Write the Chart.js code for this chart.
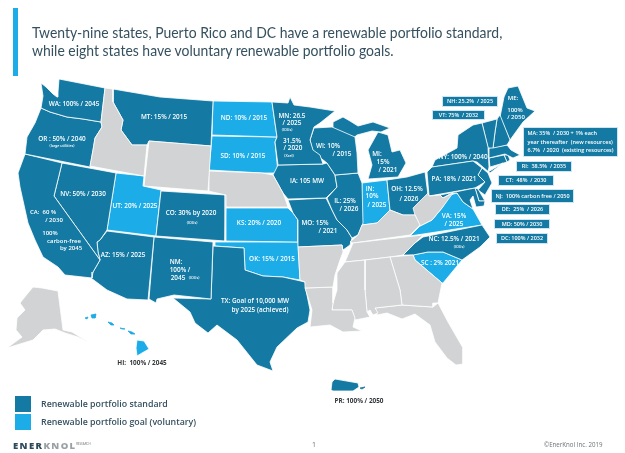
<!DOCTYPE html>
<html>
<head>
<meta charset="utf-8">
<title>Renewable portfolio standards by state</title>
<script src="https://cdn.jsdelivr.net/npm/chart.js@4"></script>
<style>
    html, body { margin: 0; padding: 0; background: #fff; }
    #page { position: relative; width: 625px; height: 453px; overflow: hidden; font-family: "Open Sans", sans-serif; }
    #map { position: absolute; left: 0; top: 0; }
    #accent { position: absolute; left: 13px; top: 8px; width: 5px; height: 68px; background: #1CACE8; }
    #title { position: absolute; left: 32px; top: 24px; font-family: Lato, sans-serif; font-size: 15px; line-height: 17.5px; color: #35505f; white-space: nowrap; transform: scaleX(0.93); transform-origin: left top; }
    .tag { position: absolute; transform: translate(-50%, -50%); white-space: pre; color: #fff; font-weight: 600; line-height: 1; }
    .box { position: absolute; background: #147AA3; color: #fff; font-size: 5.5px; font-weight: 600; line-height: 8.6px; white-space: pre; box-sizing: border-box; display: flex; align-items: center; justify-content: center; box-shadow: 0 0 0 1px #cfe6f1; }
    .swatch { position: absolute; left: 15px; width: 16px; height: 16px; }
    .key { position: absolute; left: 41px; font-size: 9.6px; color: #35505f; white-space: nowrap; font-weight: 600; transform: translateY(-50%) scaleX(0.92); transform-origin: left center; }
    .foot { position: absolute; white-space: nowrap; color: #6d7275; }
</style>
</head>
<body>
<div id="page">
    <canvas id="map" width="625" height="453"></canvas>
    <div id="accent"></div>
    <div id="title">Twenty-nine states, Puerto Rico and DC have a renewable portfolio standard,<br>while eight states have voluntary renewable portfolio goals.</div>
    <div class="swatch" style="top:396px;background:#147AA3"></div>
    <div class="swatch" style="top:414px;background:#1CACE8"></div>
    <div class="key" style="top:403px">Renewable portfolio standard</div>
    <div class="key" style="top:421px">Renewable portfolio goal (voluntary)</div>
    <div class="foot" style="left:13px;top:439px;font-size:9.5px;font-weight:800;letter-spacing:1.4px"><span style="color:#2d4a5c">ENER</span><span style="color:#9aa0a4">KNOL</span></div>
    <div class="foot" style="left:76px;top:442px;font-size:3px">RESEARCH</div>
    <div class="foot" style="left:312px;top:440px;font-size:7px">1</div>
    <div class="foot" style="left:544px;top:438px;font-size:8px;transform:scaleX(0.77);transform-origin:left top">©EnerKnol Inc. 2019</div>
</div>

<script>
// 1. State outlines, in map units [x, y]
const WA = [[41,83],[46,87],[53,94],[57,97],[58,92],[59,79],[105,88],[101,122],[83,119],[67,117],[50,112],[41,108],[43,96]];
const OR = [[41,108],[50,112],[67,117],[83,119],[101,122],[102,127],[95,138],[93,150],[90,167],[25,154],[27,137],[35,123]];
const CA = [[25,154],[62,163],[54,196],[100,260],[93,272],[92,278],[65,275],[58,267],[43,257],[35,240],[28,223],[20,187],[18,173]];
const NV = [[62,163],[116,173],[107,230],[100,240],[97,242],[98,252],[100,260],[54,196]];
const ID = [[105,88],[113,89],[113,102],[123,120],[121,130],[132,145],[147,145],[144,176],[90,166],[93,150],[95,138],[102,127],[101,122]];
const MT = [[113,89],[160,97],[213,101],[211,146],[149,141],[147,145],[132,145],[121,130],[123,120],[113,102]];
const WY = [[149,141],[211,146],[208,191],[144,186]];
const UT = [[116,173],[144,176],[143,186],[161,190],[156,236],[107,230]];
const AZ = [[107,231],[154,237],[148,300],[127,299],[107,290],[91,278],[93,272],[100,260],[98,252],[97,242],[100,240]];
const NM = [[154,237],[213,242],[211,299],[174,295],[157,299],[156,303],[149,299]];
const CO = [[161,191],[226,195],[225,241],[156,236]];
const ND = [[213,101],[272,102],[277,137],[212,135]];
const SD = [[212,136],[277,137],[275,142],[278,173],[262,173],[209,170]];
const NE = [[209,171],[262,173],[273,175],[283,193],[288,207],[226,207],[226,195],[208,191]];
const KS = [[226,208],[288,208],[293,213],[298,220],[298,242],[225,241]];
const OK = [[215,242],[298,242],[300,280],[283,277],[263,276],[245,270],[244,248],[215,246]];
const TX = [[213,246],[244,248],[245,270],[263,276],[283,277],[305,282],[306,290],[310,310],[308,322],[297,328],[277,347],[270,362],[273,371],[257,365],[245,350],[237,340],[217,325],[208,333],[195,323],[190,312],[173,298],[211,299]];
const MN = [[272,102],[288,103],[290,97],[294,105],[310,107],[335,111],[320,123],[314,127],[310,140],[313,150],[320,155],[323,164],[278,165],[275,142],[277,137]];
const WI = [[314,128],[332,127],[355,137],[357,153],[358,173],[335,175],[327,163],[313,152],[310,140]];
const MIU = [[333,122],[343,117],[350,121],[358,126],[373,122],[390,128],[381,132],[372,131],[357,135],[351,140],[333,130]];
const MIL = [[368,179],[372,165],[368,150],[378,132],[388,135],[392,152],[400,150],[406,163],[398,177]];
const IL = [[335,175],[358,173],[362,183],[363,223],[358,235],[352,238],[347,230],[337,220],[332,210],[327,198],[337,187]];
const IA = [[278,165],[323,164],[327,163],[335,175],[337,187],[326,198],[288,199],[283,193],[273,175]];
const MO = [[288,200],[326,198],[332,210],[337,220],[347,230],[352,238],[350,245],[343,250],[342,245],[298,247],[298,220],[293,213]];
const AR = [[298,247],[342,245],[343,252],[340,260],[335,275],[333,287],[305,288],[305,282],[300,280]];
const LA = [[305,288],[333,287],[333,303],[332,310],[352,310],[355,318],[353,327],[362,331],[343,332],[330,325],[310,327],[312,310]];
const MS = [[345,262],[365,260],[365,290],[367,312],[370,317],[355,320],[352,310],[332,310],[333,303],[337,290],[337,273]];
const AL = [[365,260],[390,257],[400,290],[402,305],[375,308],[378,313],[373,315],[370,310],[367,312],[365,290]];
const GA = [[390,257],[413,255],[415,260],[442,283],[440,293],[438,303],[433,303],[433,307],[402,305],[400,290]];
const FL = [[375,308],[402,305],[433,307],[438,303],[448,322],[463,348],[463,364],[456,365],[447,358],[435,342],[430,325],[415,314],[402,319],[387,313],[377,315]];
const SC = [[413,255],[428,252],[443,252],[462,260],[443,283],[442,283],[415,260]];
const NC = [[403,255],[415,243],[423,237],[482,225],[490,237],[480,247],[462,260],[443,252],[428,252],[413,255]];
const TN = [[345,262],[353,243],[423,235],[415,243],[403,255],[390,257],[365,260]];
const KY = [[350,242],[358,235],[362,225],[377,223],[390,210],[403,215],[415,215],[420,225],[410,235],[353,243]];
const VA = [[410,236],[420,226],[432,220],[442,208],[450,195],[457,193],[463,202],[473,209],[482,225]];
const WV = [[415,215],[413,208],[428,193],[429,196],[440,195],[443,198],[453,193],[442,208],[432,220],[420,226]];
const MD = [[440,195],[475,188],[479,201],[485,201],[484,206],[476,207],[473,196],[470,200],[473,209],[463,202],[457,193],[450,194],[443,198]];
const DE = [[475,188],[478,189],[485,201],[479,201]];
const PA = [[427,172],[432,167],[473,161],[482,168],[478,175],[485,182],[475,188],[429,196]];
const OH = [[387,180],[407,177],[425,172],[428,195],[415,215],[403,215],[390,210]];
const IN = [[362,183],[387,180],[390,210],[377,223],[362,225]];
const NY = [[432,167],[435,160],[457,148],[458,135],[473,125],[482,123],[488,147],[489,167],[488,172],[503,163],[490,173],[477,162],[473,161]];
const NJ = [[482,168],[488,173],[492,183],[485,195],[478,190],[485,182],[478,175]];
const VT = [[482,123],[497,119],[495,132],[493,148],[488,148]];
const NH = [[497,119],[500,115],[510,140],[507,145],[493,148],[495,132]];
const ME = [[500,117],[504,97],[508,88],[518,86],[527,108],[535,111],[523,122],[510,140]];
const MA = [[489,148],[507,145],[511,150],[520,155],[513,158],[505,154],[489,158]];
const CT = [[489,158],[504,155],[507,162],[490,167]];
const RI = [[504,155],[508,155],[510,160],[507,162]];
const AK = [[33,287],[42,288],[58,291],[63,330],[72,332],[90,343],[78,337],[65,333],[55,329],[43,330],[33,340],[7,348],[22,337],[16,330],[17,318],[25,310],[20,303],[28,293]];
const HI1 = [[137,340],[144,341],[149,349],[142,353],[137,356],[136,348]];
const HI2 = [[128,331],[132,332],[135,334],[131,334]];
const HI3 = [[120,328],[125,329],[122,329]];
const HI4 = [[108,322],[112,323],[114,325],[111,325]];
const HI5 = [[91,315],[96,314],[95,318],[92,318]];
const HI6 = [[85,318],[88,317],[87,319]];
const PR1 = [[332,382],[335,379],[358,383],[359,387],[353,391],[333,391],[331,390]];
const PR2 = [[360,388],[365,387],[362,389]];

// 2. Which outline belongs to which group
const noPolicyShapes = [ID, WY, NE, AR, LA, MS, AL, GA, FL, TN, KY, WV, AK];
const standardShapes = [WA, OR, CA, NV, MT, AZ, NM, CO, TX, MN, WI, MIU, MIL, IL, IA, MO, NC, MD, DE, PA, OH, NY, NJ, VT, NH, ME, MA, CT, RI, PR1];
const goalShapes = [UT, ND, SD, KS, OK, SC, VA, IN, HI1];
const standardIslands = [PR2];
const goalIslands = [HI2, HI3, HI4, HI5, HI6];

// 3. State labels: text, x, y, font size
const stateLabels = [
    ["WA: 100% / 2045", 74, 104, 6.4], ["MT: 15% / 2015", 164, 117, 6.4], ["ND: 10% / 2015", 244, 118, 6.4],
    ["SD: 10% / 2015", 243, 156, 6.4], ["OR : 50% / 2040", 62, 139, 6.4], ["(large utilities)", 62, 146, 3.6],
    ["NV: 50% / 2030", 83, 194, 6.4], ["UT: 20% / 2025", 135, 206, 6.4], ["CO: 30% by 2020", 191, 213, 6.4],
    ["(IOUs)", 192, 223, 3.6], ["KS: 20% / 2020", 259, 223, 6.4], ["OK: 15% / 2015", 272, 259, 6.4],
    ["CA:  60 %", 43, 212, 6], ["/ 2030", 54, 220, 6], ["100%", 50, 233, 6], ["carbon-free", 64, 241, 6], ["by 2045", 71, 248, 6],
    ["AZ: 15% / 2025", 123, 255, 6.4], ["NM:", 176, 262, 6.4], ["100% /", 180, 270, 6.4], ["2045", 178, 278, 6.4], ["(IOUs)", 194, 278, 3.6],
    ["TX: Goal of 10,000 MW", 255, 301, 6.4], ["by 2025 (achieved)", 260, 310, 6.4],
    ["MN: 26.5", 292, 116, 6.4], ["/ 2025", 292, 123, 6.4], ["(IOUs)", 287, 130, 3.6], ["31.5%", 292, 141, 6.4], ["/ 2020", 293, 148, 6.4], ["(Xcel)", 289, 156, 3.6],
    ["IA: 105 MW", 307, 181, 6.4], ["WI: 10%", 328, 146, 6.4], ["/ 2015", 342, 154, 6.4], ["MO: 15%", 315, 223, 6.4], ["/ 2021", 328, 231, 6.4],
    ["IL: 25%", 345, 201, 6.4], ["/ 2026", 349, 209, 6.4], ["IN:", 370, 189, 6.4], ["10%", 372, 196, 6.4], ["/ 2025", 377, 205, 6.4],
    ["MI:", 377, 154, 6.4], ["15%", 383, 162, 6.4], ["/ 2021", 388, 170, 6.4], ["OH: 12.5%", 407, 189, 6.4], ["/ 2026", 409, 199, 6.4],
    ["PA: 18% / 2021", 454, 179, 6.4], ["NY: 100% / 2040", 463, 157, 6.4], ["VA: 15%", 454, 216, 6.4], ["/ 2025", 454, 224, 6.4],
    ["NC: 12.5% / 2021", 454, 239, 6.4], ["(IOUs)", 459, 247, 3.6], ["SC : 2% 2021", 440, 263, 6.4],
    ["ME:", 513, 98, 6], ["100%", 515, 110, 6], ["/ 2050", 516, 117, 6]
];
const outsideLabels = [["HI:  100% / 2045", 142, 363], ["PR: 100% / 2050", 359, 401]];

// 4. Boxed labels for the small northeast states: text, left, top, right, bottom
const boxLabels = [
    ["NH: 25.2%  / 2025", 443, 97, 497, 106], ["VT: 75%  / 2032", 433, 111, 484, 119],
    ["MA: 35%  / 2030 + 1% each\nyear thereafter  (new resources)\n6.7%  / 2020  (existing resources)", 524, 128, 617, 156],
    ["RI:  38.5%  / 2035", 517, 162, 571, 171], ["CT:  48%  / 2030", 499, 176, 553, 185],
    ["NJ:  100% carbon free / 2050", 492, 190, 573, 202], ["DE:  25%  / 2026", 496, 205, 549, 214],
    ["MD: 50% / 2030", 495, 220, 549, 228], ["DC: 100% / 2032", 497, 234, 547, 243]
];

// 5. One closed, filled line per outline
function shapeDataset(shape, color, edge) {
    const points = shape.concat([shape[0]]).map(p => ({ x: p[0], y: p[1] }));
    return {
        data: points,
        showLine: true,
        fill: 'shape',
        backgroundColor: color,
        borderColor: edge,
        borderWidth: 0.8,
        pointRadius: 0,
        tension: 0,
        clip: false
    };
}

const chart = new Chart(document.getElementById('map'), {
    type: 'scatter',
    data: {
        datasets: [
            ...noPolicyShapes.map(s => shapeDataset(s, '#D1D3D4', '#ffffff')),
            ...standardShapes.map(s => shapeDataset(s, '#147AA3', '#ffffff')),
            ...goalShapes.map(s => shapeDataset(s, '#1CACE8', '#ffffff')),
            // islands are too small to keep a white edge
            ...standardIslands.map(s => shapeDataset(s, '#147AA3', '#147AA3')),
            ...goalIslands.map(s => shapeDataset(s, '#1CACE8', '#1CACE8'))
        ]
    },
    options: {
        responsive: false,
        animation: false,
        events: [],
        layout: { padding: 0 },
        plugins: { legend: { display: false }, tooltip: { enabled: false } },
        scales: {
            x: { type: 'linear', min: 0, max: 625, display: false },
            y: { type: 'linear', min: 0, max: 453, reverse: true, display: false }
        }
    }
});

// 6. Put the labels on the map through the chart's scales
const page = document.getElementById('page');
const xScale = chart.scales.x;
const yScale = chart.scales.y;

stateLabels.forEach(([text, x, y, size]) => {
    const tag = document.createElement('div');
    tag.className = 'tag';
    tag.textContent = text;
    tag.style.left = xScale.getPixelForValue(x) + 'px';
    tag.style.top = yScale.getPixelForValue(y) + 'px';
    tag.style.fontSize = size + 'px';
    page.appendChild(tag);
});

outsideLabels.forEach(([text, x, y]) => {
    const tag = document.createElement('div');
    tag.className = 'tag';
    tag.textContent = text;
    tag.style.left = xScale.getPixelForValue(x) + 'px';
    tag.style.top = yScale.getPixelForValue(y) + 'px';
    tag.style.fontSize = '6.4px';
    tag.style.color = '#33383b';
    tag.style.fontWeight = '700';
    page.appendChild(tag);
});

boxLabels.forEach(([text, left, top, right, bottom]) => {
    const box = document.createElement('div');
    box.className = 'box';
    box.textContent = text;
    box.style.left = xScale.getPixelForValue(left) + 'px';
    box.style.top = yScale.getPixelForValue(top) + 'px';
    box.style.width = (right - left) + 'px';
    box.style.height = (bottom - top) + 'px';
    page.appendChild(box);
});
</script>
</body>
</html>
